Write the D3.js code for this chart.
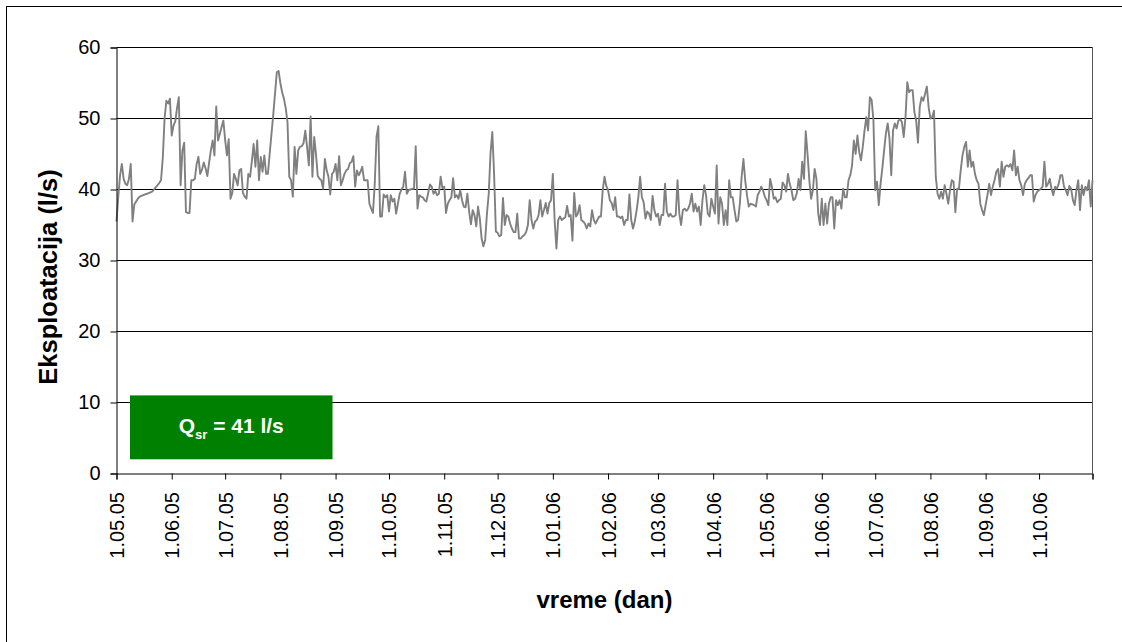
<!DOCTYPE html>
<html>
<head>
<meta charset="utf-8">
<script src="https://cdn.jsdelivr.net/npm/d3@7"></script>
<style>
html, body { margin: 0; padding: 0; background: #fff; }
svg { display: block; font-family: Arial, "Liberation Sans", sans-serif; }
</style>
</head>
<body>
<svg id="chart" width="1122" height="642"></svg>
<script>
// ---- data (daily exploitation, l/s), one array per month ----
const may05 = [35.5,39.0,42.0,43.6,41.5,40.8,40.6,41.5,43.6,35.5,37.9,38.3,38.7,39.0,39.1,39.2,39.3,39.4,39.5,39.6,39.7,40.0,40.3,40.6,40.9,41.3,44.5,50.0,52.5,52.1,52.8];
const jun05 = [47.6,49.0,49.6,51.5,53.0,40.6,45.5,46.6,36.8,36.7,36.7,41.3,41.3,41.5,43.6,44.6,42.2,42.8,43.8,43.0,41.9,43.8,45.5,46.9,44.8,51.7,46.9,47.8,48.8,49.7];
const jul05 = [47.0,44.8,47.1,38.7,39.5,42.2,41.5,40.6,42.7,42.9,39.5,39.0,38.7,42.2,41.8,44.0,46.4,43.2,46.9,41.3,44.6,42.5,44.8,42.2,42.2,45.0,47.8,50.5,53.5,56.5,56.7];
const aug05 = [55.0,53.7,52.8,51.5,49.5,41.8,41.3,39.0,46.0,42.2,45.5,46.0,46.1,46.5,48.3,46.0,43.4,50.3,41.8,47.4,45.0,41.9,41.5,41.3,40.1,44.3,42.7,41.8,39.3,42.2,42.5];
const sep05 = [43.6,41.3,44.7,40.6,41.3,42.2,42.7,42.9,43.7,43.9,44.7,40.4,42.7,42.0,42.5,43.2,41.3,41.3,41.3,38.0,37.3,36.7,40.8,47.4,48.9,36.2,36.2,39.3,38.9,39.2];
const oct05 = [36.9,39.2,38.3,38.7,36.6,38.0,39.4,40.0,40.4,42.5,39.4,39.9,40.0,40.1,40.1,46.1,37.3,39.2,39.0,38.9,38.5,38.3,39.5,40.7,40.4,39.4,39.8,39.2,39.4,41.8,40.2];
const nov05 = [40.4,36.7,38.0,38.5,38.9,41.6,38.9,39.2,38.7,39.9,38.5,37.6,37.5,39.4,36.9,35.1,37.1,36.4,34.8,37.6,35.9,33.1,32.0,32.9,36.6,39.4,45.1,48.1,42.2,34.1];
const dec05 = [33.9,33.4,33.6,38.8,35.0,36.4,36.2,35.2,34.5,34.0,34.0,36.6,33.1,33.1,33.4,33.6,34.0,35.0,38.5,35.7,34.5,35.5,35.7,36.4,38.5,36.2,37.1,38.1,36.6,38.1,38.5];
const jan06 = [42.2,35.7,31.7,35.7,36.2,35.7,35.9,36.1,37.7,36.2,36.4,32.8,39.5,36.2,36.6,37.8,35.7,35.5,35.2,34.5,35.2,34.8,37.1,35.7,35.2,35.7,36.2,36.2,39.9,41.8,40.5];
const feb06 = [39.9,38.5,38.1,37.1,38.9,36.2,36.2,36.0,36.2,35.0,35.7,35.7,39.3,35.7,34.5,35.5,37.0,38.9,41.8,38.9,38.2,35.9,36.9,36.6,35.7,39.1,37.1,36.2];
const mar06 = [36.6,35.0,36.4,36.4,40.8,36.9,36.2,36.6,36.2,36.2,36.4,41.3,36.6,35.0,37.1,37.3,37.0,37.3,38.0,39.4,36.9,38.0,36.9,37.6,35.0,38.5,40.6,39.2,36.6,36.2,38.7];
const apr06 = [37.6,36.6,43.4,35.2,38.9,38.0,35.0,37.1,35.0,41.3,38.9,38.9,37.1,35.5,35.7,38.0,41.8,44.3,41.3,39.2,37.6,38.0,37.9,37.8,37.6,39.2,39.7,40.4,39.9,39.0];
const may06 = [38.5,37.8,41.5,40.4,38.7,38.9,38.2,38.5,38.7,41.0,40.6,39.7,42.2,40.8,39.9,38.5,38.7,39.5,41.5,39.9,43.9,41.5,48.2,45.0,41.3,38.7,39.9,42.9,41.5,36.6,35.0];
const jun06 = [38.7,35.0,38.0,35.2,38.0,38.9,38.9,34.5,38.5,37.8,38.5,37.3,40.1,38.9,38.9,41.3,42.0,43.4,46.9,45.0,47.6,45.3,44.1,46.0,48.3,50.2,48.3,53.0,52.6,49.7];
const jul06 = [39.9,41.1,37.8,40.8,43.0,45.5,47.9,49.3,47.2,42.0,48.3,49.3,48.6,49.7,49.9,49.5,47.4,50.2,55.1,53.7,54.0,54.0,50.9,49.7,46.6,51.6,53.0,52.5,53.5,54.5,51.6];
const aug06 = [50.0,50.2,51.1,41.8,39.4,38.7,39.7,38.7,40.6,39.4,38.0,39.9,41.3,41.1,36.8,40.1,40.1,42.7,44.8,46.0,46.7,43.2,45.5,43.2,43.9,42.2,41.3,40.8,38.0,37.1,36.4];
const sep06 = [37.8,39.2,40.8,39.2,40.4,41.3,42.5,42.9,40.4,43.9,41.8,43.2,43.4,43.2,43.6,42.7,45.5,42.0,43.2,41.3,40.6,39.2,40.8,41.3,41.6,42.0,42.0,38.3,39.2,39.7];
const oct06 = [39.9,40.1,40.4,43.9,40.4,40.8,41.5,40.1,39.2,40.4,40.1,40.8,42.0,42.0,40.4,39.9,39.2,40.5,40.1,38.5,37.8,39.9,41.3,37.1,40.6,39.2,40.4,39.9,41.3,37.6,41.3];

const tickLabels = ["1.05.05","1.06.05","1.07.05","1.08.05","1.09.05","1.10.05","1.11.05","1.12.05",
                    "1.01.06","1.02.06","1.03.06","1.04.06","1.05.06","1.06.06","1.07.06","1.08.06","1.09.06","1.10.06"];
const yTicks = [0, 10, 20, 30, 40, 50, 60];
const yTitle = "Eksploatacija (l/s)";
const xTitle = "vreme (dan)";
const meanValue = 41;
const meanBox = [2, 11];          // value range covered by the annotation box

(function () {
  // ---- build series ----
  const startDate = new Date(Date.UTC(2005, 4, 1));
  const endDate = new Date(Date.UTC(2006, 9, 31));
  const values = [may05, jun05, jul05, aug05, sep05, oct05, nov05, dec05, jan06, feb06,
                  mar06, apr06, may06, jun06, jul06, aug06, sep06, oct06].flat();
  const series = values.map((v, i) => ({ date: d3.utcDay.offset(startDate, i), v }));

  // ---- layout ----
  const svg = d3.select("#chart");
  const pL = 116.5, pR = 1092.5, pT = 47.5, pB = 473.5;

  const x = d3.scaleUtc().domain([startDate, endDate]).range([pL, pR]);
  const y = d3.scaleLinear().domain([0, 60]).range([pB, pT]);

  // outer frame (right/bottom edges fall outside the picture)
  svg.append("rect")
    .attr("x", 6.5).attr("y", 6.5).attr("width", 1140).attr("height", 660)
    .attr("fill", "none").attr("stroke", "#000").attr("stroke-width", 1);

  // gridlines
  svg.append("g").selectAll("line")
    .data(yTicks.filter(t => t > 0))
    .join("line")
    .attr("x1", pL).attr("x2", pR)
    .attr("y1", d => y(d)).attr("y2", d => y(d))
    .attr("stroke", "#000").attr("stroke-width", 1);

  // plot area right edge
  svg.append("line")
    .attr("x1", pR).attr("x2", pR).attr("y1", pT).attr("y2", pB)
    .attr("stroke", "#555").attr("stroke-width", 1);

  // data line
  const line = d3.line().x(d => x(d.date)).y(d => y(d.v));
  svg.append("path")
    .datum(series)
    .attr("d", line)
    .attr("fill", "none")
    .attr("stroke", "#808080")
    .attr("stroke-width", 1.9)
    .attr("stroke-linejoin", "round");

  // y axis
  const yAxis = svg.append("g")
    .attr("transform", `translate(${pL},0)`)
    .call(d3.axisLeft(y).tickValues(yTicks).tickSize(6).tickPadding(10).tickFormat(d3.format("d")));
  yAxis.select(".domain").attr("stroke", "#000");
  yAxis.selectAll(".tick line").attr("stroke", "#000");
  yAxis.selectAll("text").attr("font-size", 20).attr("fill", "#000")
    .attr("font-family", "Arial, 'Liberation Sans', sans-serif");

  // x axis
  const monthStarts = d3.utcMonth.range(startDate, endDate);
  const xTickVals = monthStarts.concat([endDate]);
  const xAxis = svg.append("g")
    .attr("transform", `translate(0,${pB})`)
    .call(d3.axisBottom(x).tickValues(xTickVals).tickSize(6)
          .tickFormat((d, i) => tickLabels[i] || ""));
  xAxis.select(".domain").attr("stroke", "#000");
  xAxis.selectAll(".tick line").attr("stroke", "#000");
  xAxis.selectAll("text")
    .attr("transform", "rotate(-90)")
    .attr("x", -18.5).attr("y", 0).attr("dy", "0.35em")
    .attr("text-anchor", "end")
    .attr("font-size", 20).attr("fill", "#000")
    .attr("font-family", "Arial, 'Liberation Sans', sans-serif");

  // axis titles
  svg.append("text")
    .attr("transform", `translate(57,277) rotate(-90)`)
    .attr("text-anchor", "middle")
    .attr("font-size", 25.5).attr("font-weight", "bold").attr("fill", "#000")
    .text(yTitle);

  svg.append("text")
    .attr("x", (pL + pR) / 2).attr("y", 608)
    .attr("text-anchor", "middle")
    .attr("font-size", 24).attr("font-weight", "bold").attr("fill", "#000")
    .text(xTitle);

  // mean annotation box
  const boxX = pL + 13.5, boxW = 202.5;
  const boxTop = y(meanBox[1]), boxBot = y(meanBox[0]);
  svg.append("rect")
    .attr("x", boxX).attr("y", boxTop).attr("width", boxW).attr("height", boxBot - boxTop)
    .attr("fill", "#008000");
  const mt = svg.append("text")
    .attr("x", boxX + boxW / 2).attr("y", boxTop + 37.5)
    .attr("text-anchor", "middle")
    .attr("font-weight", "bold").attr("fill", "#fff").attr("font-size", 21);
  mt.append("tspan").text("Q");
  mt.append("tspan").attr("font-size", 13).attr("dy", 6.5).text("sr");
  mt.append("tspan").attr("dy", -6.5).text(` = ${meanValue} l/s`);
})();
</script>
</body>
</html>
